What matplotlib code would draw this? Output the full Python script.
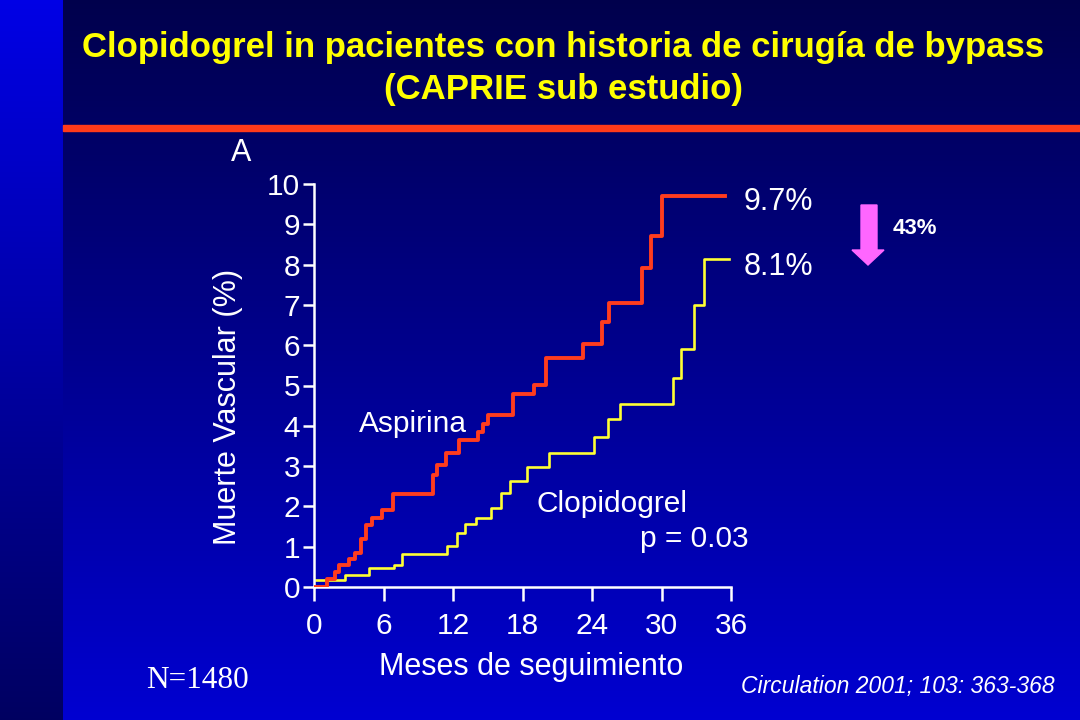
import numpy as np
import matplotlib
matplotlib.use('Agg')
import matplotlib.pyplot as plt
from matplotlib.patches import Polygon, Rectangle

plt.rcParams['font.family'] = ['Liberation Sans', 'DejaVu Sans']

# ---- data ----
aspirina_t = [0, 1.15, 1.85, 2.15, 3.05, 3.55, 4.1, 4.5, 5.05, 5.85, 6.8, 10.25, 10.6,
              11.4, 12.55, 14.2, 14.55, 15.05, 17.15, 18.95, 20.0, 23.2, 24.85, 25.45,
              28.3, 29.1, 30.05, 35.5]
aspirina_y = [0, 0.2, 0.37, 0.55, 0.7, 0.85, 1.2, 1.53, 1.7, 1.92, 2.32, 2.77, 3.02,
              3.33, 3.64, 3.85, 4.04, 4.28, 4.78, 5.02, 5.67, 6.04, 6.58, 7.04,
              7.92, 8.72, 9.7, 9.7]
clopi_t = [0.17, 2.68, 4.78, 6.94, 7.57, 11.46, 12.38, 13.05, 13.97, 15.26, 16.16,
           16.88, 18.38, 20.3, 24.19, 25.35, 26.44, 30.96, 31.71, 32.83, 33.64, 35.8]
clopi_y = [0.17, 0.29, 0.46, 0.55, 0.83, 1.01, 1.34, 1.57, 1.72, 1.97, 2.33,
           2.62, 2.98, 3.33, 3.73, 4.16, 4.54, 5.19, 5.90, 7.0, 8.14, 8.14]
x_ticks = [0, 6, 12, 18, 24, 30, 36]
y_ticks = list(range(0, 11))

W, H = 1080, 720
fig = plt.figure(figsize=(10.8, 7.2), dpi=100)

# ---- background ----
bg = fig.add_axes([0, 0, 1, 1], zorder=-10)
bg.set_axis_off()
g = np.linspace(0, 1, 256)[:, None]
main = np.zeros((256, 1, 3))
main[:, 0, 2] = 0.30 + 0.52 * g[:, 0]
bg.imshow(main, extent=[63, W, H, 0], aspect='auto')
strip = np.zeros((256, 1, 3))
strip[:, 0, 2] = 0.90 - 0.52 * g[:, 0]
bg.imshow(strip, extent=[0, 63, H, 0], aspect='auto')
bg.set_xlim(0, W)
bg.set_ylim(H, 0)
bg.add_patch(Rectangle((63, 125), W - 63, 6, color='#ff3a1a'))

# pink arrow
arrow = Polygon([(861, 205), (877, 205), (877, 250), (884, 250), (868, 265),
                 (852, 250), (861, 250)], closed=True, color='#ff66ff')
bg.add_patch(arrow)

# ---- title ----
fig.text(563 / W, 1 - 48 / H, 'Clopidogrel in pacientes con historia de cirugía de bypass',
         ha='center', va='center', color='#ffff00', fontsize=25, fontweight='bold')
fig.text(563 / W, 1 - 90 / H, '(CAPRIE sub estudio)',
         ha='center', va='center', color='#ffff00', fontsize=25, fontweight='bold')

# ---- main plot ----
ax = fig.add_axes([314 / W, 1 - 587 / H, (731 - 314) / W, (587 - 184) / H])
ax.patch.set_alpha(0)
ax.step(aspirina_t, aspirina_y, where='post', color='#ff3c1e', lw=2.8, zorder=3)
ax.step(clopi_t, clopi_y, where='post', color='#ffff33', lw=1.9, zorder=2)
ax.set_xlim(0, 36)
ax.set_ylim(0, 10)
ax.set_xticks(x_ticks)
ax.set_yticks(y_ticks)
for s in ['top', 'right']:
    ax.spines[s].set_visible(False)
for s in ['left', 'bottom']:
    ax.spines[s].set_color('white')
    ax.spines[s].set_linewidth(1.8)
ax.tick_params(colors='white', labelsize=21.5, width=1.8)
ax.tick_params(axis='x', length=10, pad=8)
ax.tick_params(axis='y', length=8, pad=2)
ax.set_xlabel('Meses de seguimiento', color='white', fontsize=22)
ax.xaxis.set_label_coords(531 / W, 1 - 667 / H, transform=fig.transFigure)
ax.set_ylabel('Muerte Vascular (%)', color='white', fontsize=22)
ax.yaxis.set_label_coords(228 / W, 1 - 407 / H, transform=fig.transFigure)
for lab in (ax.xaxis.label, ax.yaxis.label):
    lab.set_va('center')

fig.text(241 / W, 1 - 153 / H, 'A', color='white', fontsize=22, ha='center', va='center')
ax.text(37.1, 9.55, '9.7%', color='white', fontsize=22, va='center')
ax.text(37.1, 7.95, '8.1%', color='white', fontsize=22, va='center')
ax.text(3.9, 4.05, 'Aspirina', color='white', fontsize=21.5, va='center')
ax.text(19.2, 2.05, 'Clopidogrel', color='white', fontsize=21.5, va='center')
ax.text(37.5, 1.18, 'p = 0.03', color='white', fontsize=21.5, va='center', ha='right')

fig.text(893 / W, 1 - 229 / H, '43%', color='white', fontsize=16, fontweight='bold',
         va='center')
fig.text(197 / W, 1 - 680 / H, 'N=1480', color='white', fontsize=22.5,
         family='Liberation Serif', ha='center', va='center')
fig.text(1055 / W, 1 - 687 / H, 'Circulation 2001; 103: 363-368', color='white',
         fontsize=16.5, style='italic', ha='right', va='center')

fig.savefig('out.png', dpi=100)
